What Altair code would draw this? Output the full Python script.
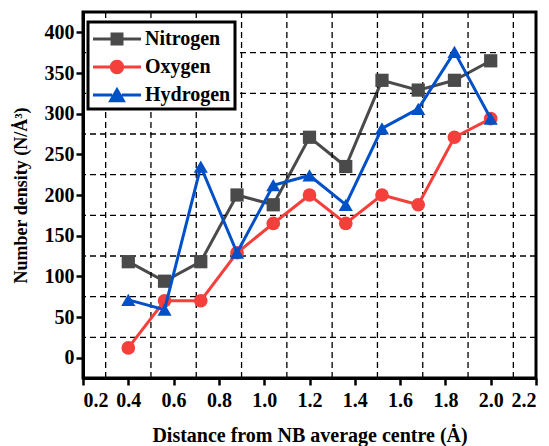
import altair as alt
import pandas as pd

# ---- data ----
distance = [0.4, 0.56, 0.72, 0.88, 1.04, 1.2, 1.36, 1.52, 1.68, 1.84, 2.0]
nitrogen = [118, 94, 118, 200, 188, 271, 235, 341, 329, 341, 365]
oxygen = [12, 70, 70, 129, 165, 200, 165, 200, 188, 271, 294]
hydrogen = [71, 59, 235, 129, 212, 224, 188, 282, 306, 376, 294]

series_names = ["Nitrogen", "Oxygen", "Hydrogen"]
series_colors = ["#4A4A4A", "#F43F3B", "#0050C8"]
series_shapes = ["square", "circle", "triangle-up"]

x_ticks = [0.2, 0.3, 0.4, 0.5, 0.6, 0.7, 0.8, 0.9, 1.0, 1.1, 1.2, 1.3, 1.4,
           1.5, 1.6, 1.7, 1.8, 1.9, 2.0, 2.1, 2.2]
y_ticks = [0, 25, 50, 75, 100, 125, 150, 175, 200, 225, 250, 275, 300, 325,
           350, 375, 400]
x_grid = [0.3, 0.5, 0.7, 0.9, 1.1, 1.3, 1.5, 1.7, 1.9, 2.1]
y_grid = [25, 75, 125, 175, 225, 275, 325, 375]

# legend glyphs: line + marker (custom symbol paths, drawn beyond the unit box
# so the line is long while the legend rows stay compact)
legend_paths = [
    "M-2,-0.125H-0.54V0.125H-2Z M0.54,-0.125H2V0.125H0.54Z M-0.54,-0.54H0.54V0.54H-0.54Z",
    "M-2,-0.125H-0.56V0.125H-2Z M0.56,-0.125H2V0.125H0.56Z M-0.6,0A0.6,0.6 0 1,1 0.6,0A0.6,0.6 0 1,1 -0.6,0Z",
    "M-2,-0.125H-0.4V0.125H-2Z M0.4,-0.125H2V0.125H0.4Z M0,-0.68L0.74,0.6H-0.74Z",
]

rows = []
for name, vals in zip(series_names, [nitrogen, oxygen, hydrogen]):
    for d, v in zip(distance, vals):
        rows.append({"distance": d, "density": v, "series": name, "key": name})
df = pd.DataFrame(rows)
xg_df = pd.DataFrame({"distance": x_grid})
yg_df = pd.DataFrame({"density": y_grid})

FONT = "Liberation Serif"

x_major = "round(datum.value*10) % 2 == 0"
y_major = "datum.value % 50 == 0"

x_scale = alt.Scale(domain=[0.2, 2.2], nice=False, zero=False)
y_scale = alt.Scale(domain=[-25, 425], nice=False, zero=False)

x_enc = alt.X(
    "distance:Q",
    scale=x_scale,
    axis=alt.Axis(
        values=x_ticks,
        grid=False,
        title="Distance from NB average centre (Ȧ)",
        labelExpr=f"{x_major} ? format(datum.value, '.1f') : ''",
        tickSize={"condition": {"test": x_major, "value": 7}, "value": 4},
        labelPadding=5,
        titlePadding=15,
        titleFontSize=20,
    ),
)
y_enc = alt.Y(
    "density:Q",
    scale=y_scale,
    axis=alt.Axis(
        values=y_ticks,
        grid=False,
        title="Number density (N/Ȧ³)",
        labelExpr=f"{y_major} ? datum.label : ''",
        tickSize={"condition": {"test": y_major, "value": 7}, "value": 4},
        labelPadding=2,
        titlePadding=14,
        titleFontSize=18,
    ),
)

grid_style = dict(color="black", strokeWidth=1.3, strokeDash=[6, 4])
vgrid = alt.Chart(xg_df).mark_rule(**grid_style).encode(x="distance:Q")
hgrid = alt.Chart(yg_df).mark_rule(**grid_style).encode(y="density:Q")

color_scale = alt.Scale(domain=series_names, range=series_colors)

lines = alt.Chart(df).mark_line(strokeWidth=3).encode(
    x=x_enc,
    y=y_enc,
    color=alt.Color("series:N", scale=color_scale, legend=None),
    detail="series:N",
    order=alt.Order("distance:Q"),
)

points = alt.Chart(df).mark_point(filled=True, opacity=1).encode(
    x="distance:Q",
    y="density:Q",
    color=alt.Color("series:N", scale=color_scale, legend=None),
    shape=alt.Shape("series:N", scale=alt.Scale(domain=series_names, range=series_shapes), legend=None),
    size=alt.Size("series:N", scale=alt.Scale(domain=series_names, range=[175, 200, 300]), legend=None),
)

legend_layer = alt.Chart(df).transform_filter("false").mark_point(filled=True, opacity=1).encode(
    x="distance:Q",
    y="density:Q",
    color=alt.Color(
        "key:N",
        scale=alt.Scale(domain=series_names, range=series_colors),
        legend=alt.Legend(
            title=None,
            orient="none",
            legendX=5,
            legendY=10,
            symbolSize=576,
            symbolOffset=12,
            labelOffset=15,
            rowPadding=5,
        ),
    ),
    shape=alt.Shape(
        "key:N",
        scale=alt.Scale(domain=series_names, range=legend_paths),
    ),
)

# order: Nitrogen, Oxygen, Hydrogen -> layer per series so Hydrogen sits on top
layers = [lines.transform_filter(alt.datum.series == series_names[0]), vgrid, hgrid]
layers.append(points.transform_filter(alt.datum.series == series_names[0]))
for name in series_names[1:]:
    f = alt.datum.series == name
    layers.append(lines.transform_filter(f))
    layers.append(points.transform_filter(f))
layers.append(legend_layer)

chart = alt.layer(*layers).resolve_scale(
    color="independent", shape="independent", size="independent"
).properties(
    width=453,
    height=366,
    padding={"left": 75, "top": 4, "right": 5, "bottom": 68},
    autosize=alt.AutoSizeParams(type="none"),
).configure_view(
    stroke="black", strokeWidth=3
).configure_axis(
    domainColor="black",
    domainWidth=3,
    tickColor="black",
    tickWidth=2.5,
    labelFont=FONT,
    labelFontWeight="bold",
    labelFontSize=20,
    labelColor="black",
    titleFont=FONT,
    titleFontWeight="bold",
    titleColor="black",
).configure_legend(
    labelFont=FONT,
    labelFontWeight="bold",
    labelFontSize=20,
    labelColor="black",
    strokeColor="black",
    strokeWidth=3,
    fillColor="white",
    padding=4,
)

chart.save("out.html", embed_options={"renderer": "svg", "actions": False})
